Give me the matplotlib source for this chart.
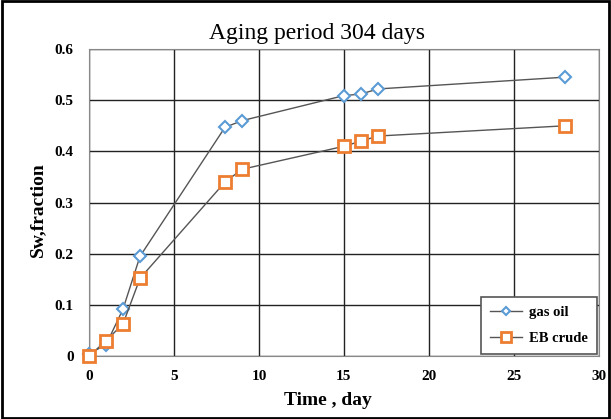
import matplotlib.pyplot as plt

plt.rcParams['font.family'] = ['Liberation Serif', 'DejaVu Serif']

days = [0, 1, 2, 3, 8, 9, 15, 16, 17, 28]
gas_oil = [0.005, 0.022, 0.092, 0.195, 0.447, 0.46, 0.509, 0.512, 0.522, 0.545]
eb_crude = [0.0, 0.03, 0.063, 0.152, 0.34, 0.365, 0.41, 0.42, 0.43, 0.45]
x_ticks = [0, 5, 10, 15, 20, 25, 30]
y_ticks = [0, 0.1, 0.2, 0.3, 0.4, 0.5, 0.6]
y_labels = ['0', '0.1', '0.2', '0.3', '0.4', '0.5', '0.6']

fig = plt.figure(figsize=(6.11, 4.19), dpi=100)
ax = fig.add_axes([0.1457, 0.150, 0.8343, 0.733])

ax.plot(days, gas_oil, color='#555555', lw=1, marker='D', ms=6,
        mfc='white', mec='#5B9BD5', mew=1.5, label='gas oil', zorder=3, clip_on=False)
ax.plot(days, eb_crude, color='#555555', lw=1, marker='s', ms=9,
        mfc='white', mec='#ED7D31', mew=2, label='EB crude', zorder=3, clip_on=False)

ax.set_xlim(0, 30)
ax.set_ylim(0, 0.6)
ax.set_xticks(x_ticks)
ax.set_yticks(y_ticks)
ax.set_yticklabels(y_labels)
ax.grid(True, color='#222222', lw=1)
ax.tick_params(length=0, labelsize=11, pad=10)
ax.tick_params(axis='y', pad=11)
for lab in ax.get_xticklabels() + ax.get_yticklabels():
    lab.set_fontweight('bold')
for s in ax.spines.values():
    s.set_color('#888888')

# title and axis names sit a little left of the plot centre in the original
fig.text(317 / 611, 1 - 33 / 419, 'Aging period 304 days', fontsize=17,
         ha='center', va='center')
fig.text(328 / 611, 1 - 400 / 419, 'Time , day', fontsize=14, fontweight='bold',
         ha='center', va='center')
fig.text(38 / 611, 1 - 210 / 419, 'Sw,fraction', fontsize=14, fontweight='bold',
         ha='center', va='center', rotation=90)

leg = ax.legend(loc='lower right', prop={'weight': 'bold', 'size': 10.5},
                fancybox=False, framealpha=1, edgecolor='#555555',
                borderaxespad=0.15, handlelength=2.2, markerscale=0.75,
                labelspacing=0.9, borderpad=0.6, handletextpad=0.5)
leg.get_frame().set_linewidth(1.2)

fig.patches.append(plt.Rectangle((0.003, 0.003), 0.994, 0.994, transform=fig.transFigure,
                                 fill=False, edgecolor='black', lw=2))

fig.savefig('out.png', dpi=100)
